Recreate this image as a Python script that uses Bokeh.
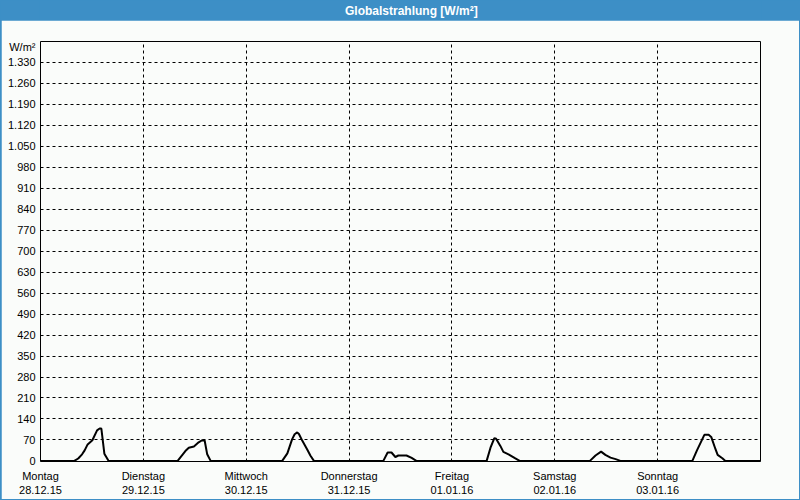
from bokeh.plotting import figure
from bokeh.layouts import column
from bokeh.models import Range1d, FixedTicker
from bokeh.core.properties import value
from bokeh.embed import file_html
from bokeh.resources import INLINE

# ---------------- data ----------------
titel = "Globalstrahlung [W/m²]"
einheit = "W/m²"
tage = ["Montag", "Dienstag", "Mittwoch", "Donnerstag", "Freitag", "Samstag", "Sonntag"]
daten = ["28.12.15", "29.12.15", "30.12.15", "31.12.15", "01.01.16", "02.01.16", "03.01.16"]
y_ticks = [0, 70, 140, 210, 280, 350, 420, 490, 560, 630, 700, 770, 840, 910,
           980, 1050, 1120, 1190, 1260, 1330]

# hour of day / W/m² for each day (outside these hours the value is 0)
mo_std = [7.9, 8.8, 9.7, 10.3, 11.0, 12.1, 13.2, 13.8, 14.2, 14.9, 15.9]
mo_wm2 = [0, 8, 22, 35, 55, 69, 102, 108, 108, 24, 0]
di_std = [8.0, 9.8, 10.6, 11.8, 12.9, 13.7, 14.3, 14.9, 15.7]
di_wm2 = [0, 33, 44, 48, 62, 69, 68, 22, 0]
mi_std = [8.4, 9.6, 10.7, 11.3, 11.9, 12.3, 13.1, 14.2, 15.0, 15.8]
mi_wm2 = [0, 25, 72, 89, 95, 90, 67, 39, 17, 0]
do_std = [8.0, 9.0, 9.9, 10.8, 11.5, 13.4, 14.6, 15.7]
do_wm2 = [0, 28, 28, 13, 18, 18, 10, 0]
fr_std = [8.1, 9.0, 9.9, 10.3, 11.3, 12.0, 13.2, 14.6, 15.8]
fr_wm2 = [0, 44, 76, 74, 50, 30, 22, 10, 0]
sa_std = [8.2, 9.5, 10.8, 11.8, 13.0, 14.2, 15.3]
sa_wm2 = [0, 18, 31, 20, 11, 6, 0]
so_std = [8.1, 9.2, 10.4, 10.9, 11.9, 12.5, 13.5, 14.0, 15.1, 15.8]
so_wm2 = [0, 36, 72, 87, 87, 80, 39, 20, 9, 0]

tag_std = [mo_std, di_std, mi_std, do_std, fr_std, sa_std, so_std]
tag_wm2 = [mo_wm2, di_wm2, mi_wm2, do_wm2, fr_wm2, sa_wm2, so_wm2]

# build the week series (hours since Monday 00:00)
t = [0.0]
v = [0.0]
for d, (hs, ws) in enumerate(zip(tag_std, tag_wm2)):
    t += [24 * d + h for h in hs]
    v += ws
t.append(24.0 * len(tage))
v.append(0.0)

x_ticks = [24 * d for d in range(len(tage))]

# ---------------- style ----------------
BLUE = "#3d8fc6"
BG = "#fafcfa"
FONT = "Liberation Sans"
UNIT_POS = 1383  # vertical position of the unit caption next to the top of the axis

# title bar
bar = figure(width=800, height=20, x_range=Range1d(0, 800), y_range=Range1d(0, 20),
             toolbar_location=None, output_backend="svg", min_border=0)
bar.axis.visible = False
bar.grid.visible = False
bar.outline_line_color = None
bar.background_fill_color = BLUE
bar.border_fill_color = BLUE
bar.text(x=[412], y=[10], text=[titel], text_color="white", text_font=value(FONT),
         text_font_style="bold", text_font_size="12px", text_align="center",
         text_baseline="middle")

# main chart
p = figure(width=798, height=479, x_range=Range1d(0, 24 * len(tage)),
           y_range=Range1d(-2, 1400), toolbar_location=None, output_backend="svg",
           min_border_left=39, min_border_right=39, min_border_top=21,
           min_border_bottom=38, margin=(0, 1, 1, 1))
p.background_fill_color = BG
p.border_fill_color = BG
p.outline_line_color = "black"
p.outline_line_width = 1

p.line(t, v, line_color="black", line_width=2)

xa = p.xaxis[0]
xa.ticker = FixedTicker(ticks=x_ticks)
xa.major_label_overrides = {tk: f"{tg}\n{dt}" for tk, tg, dt in zip(x_ticks, tage, daten)}
xa.axis_line_color = None
xa.major_tick_line_color = None
xa.minor_tick_line_color = None
xa.major_tick_out = 0
xa.major_tick_in = 0
xa.major_label_standoff = 8
xa.major_label_text_font = FONT
xa.major_label_text_font_size = "11px"
xa.major_label_text_color = "black"

ya = p.yaxis[0]
ya.ticker = FixedTicker(ticks=y_ticks + [UNIT_POS])
labels = {tk: f"{tk:,}".replace(",", ".") for tk in y_ticks}
labels[UNIT_POS] = einheit
ya.major_label_overrides = labels
ya.axis_line_color = None
ya.major_tick_line_color = None
ya.minor_tick_line_color = None
ya.major_tick_out = 0
ya.major_tick_in = 0
ya.major_label_standoff = 5
ya.major_label_text_font = FONT
ya.major_label_text_font_size = "11px"
ya.major_label_text_color = "black"

p.xgrid.ticker = FixedTicker(ticks=x_ticks[1:])
p.ygrid.ticker = FixedTicker(ticks=y_ticks[1:])
for g in (p.xgrid[0], p.ygrid[0]):
    g.grid_line_color = "black"
    g.grid_line_dash = "3 3"
    g.grid_line_width = 1
    g.grid_line_alpha = 1.0

layout = column(bar, p, styles={"background-color": BLUE})

open("out.html", "w").write(file_html(layout, INLINE))
